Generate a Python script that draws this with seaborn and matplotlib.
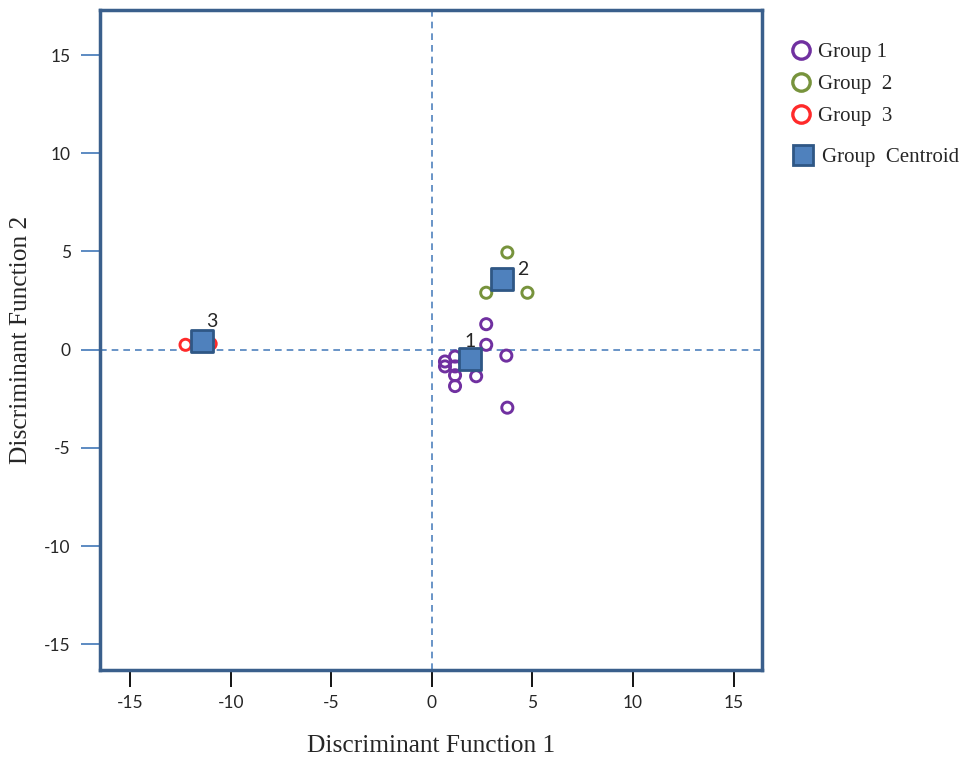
import matplotlib
matplotlib.use("Agg")
import matplotlib.pyplot as plt
from matplotlib.lines import Line2D
import seaborn as sns
import pandas as pd

# discriminant scores
g1_x = [2.7, 2.7, 3.7, 3.75, 2.2, 1.15, 1.15, 1.15, 1.15, 0.65, 0.65]
g1_y = [1.3, 0.25, -0.3, -2.95, -1.35, -1.85, -1.3, -0.85, -0.35, -0.6, -0.85]
g2_x = [3.75, 2.7, 4.75]
g2_y = [4.95, 2.9, 2.9]
g3_x = [-12.25, -11.2, -11.0]
g3_y = [0.25, 0.5, 0.3]
cent_x = [1.9, 3.5, -11.45]
cent_y = [-0.45, 3.6, 0.45]
cent_lab = ["1", "2", "3"]

groups = ["Group 1", "Group  2", "Group  3"]
colors = ["#7030A0", "#77933C", "#FF2A2A"]

df = pd.concat([
    pd.DataFrame({"x": g1_x, "y": g1_y, "group": groups[0]}),
    pd.DataFrame({"x": g2_x, "y": g2_y, "group": groups[1]}),
    pd.DataFrame({"x": g3_x, "y": g3_y, "group": groups[2]}),
])
cent = pd.DataFrame({"x": cent_x, "y": cent_y, "label": cent_lab})

sns.set_style("white")
plt.rcParams["axes.unicode_minus"] = False
spine_col = "#3A5F8C"
line_col = "#4F81BD"
cent_fill = "#4F81BD"
cent_edge = "#2F5785"

fig = plt.figure(figsize=(9.76, 7.57), dpi=100)
ax = fig.add_axes([0.1025, 0.115, 0.678, 0.872])

ax.axhline(0, color=line_col, ls=(0, (4, 3)), lw=1.2, zorder=1)
ax.axvline(0, color=line_col, ls=(0, (4, 3)), lw=1.2, zorder=1)

for g, c in zip(groups, colors):
    sub = df[df["group"] == g]
    sns.scatterplot(data=sub, x="x", y="y", ax=ax, color=c, facecolor="none",
                    edgecolor=c, linewidth=2.1, s=64, legend=False, zorder=3)

sns.scatterplot(data=cent, x="x", y="y", ax=ax, marker="s", s=230,
                color=cent_fill, edgecolor=cent_edge, linewidth=2,
                legend=False, zorder=4)
# label offsets (points) for centroid numbers
offsets = [(-4, 8), (11, 3), (3.5, 10)]
for (_, r), off in zip(cent.iterrows(), offsets):
    ax.annotate(r["label"], (r["x"], r["y"]), xytext=off, textcoords="offset points",
                fontsize=14, family="Lato", zorder=5)

ax.set_xlim(-16.5, 16.4)
ax.set_ylim(-16.3, 17.3)
ax.set_xticks([-15, -10, -5, 0, 5, 10, 15])
ax.set_yticks([-15, -10, -5, 0, 5, 10, 15])

for s in ax.spines.values():
    s.set_color(spine_col)
    s.set_linewidth(2.5)

ax.tick_params(axis="x", direction="out", length=12, width=1.3, color="black",
               labelsize=12.5, pad=6, bottom=True)
ax.tick_params(axis="y", direction="out", length=14, width=1.3, color=line_col,
               labelsize=12.5, pad=7, left=True)
for t in ax.get_xticklabels() + ax.get_yticklabels():
    t.set_family("Lato")

ax.set_xlabel("Discriminant Function 1", family="Liberation Serif", fontsize=18.3, labelpad=17)
ax.set_ylabel("Discriminant Function 2", family="Liberation Serif", fontsize=18.3, labelpad=9)

# legend: hollow circles for groups, a separate block for the centroid
grp_handles = [Line2D([], [], marker="o", ls="none", mfc="none", mec=c, mew=2.4, ms=12.5)
               for c in colors]
leg1 = fig.legend(grp_handles, groups, loc="upper left", bbox_to_anchor=(0.803, 0.944),
                  frameon=False, prop={"family": "Liberation Serif", "size": 15},
                  handletextpad=0.0, labelspacing=0.6, borderpad=0, borderaxespad=0,
                  handlelength=1.63)
cen_handle = [Line2D([], [], marker="s", ls="none", mfc=cent_fill, mec=cent_edge, mew=2, ms=14.5)]
leg2 = fig.legend(cen_handle, ["Group  Centroid"], loc="upper left",
                  bbox_to_anchor=(0.803, 0.805), frameon=False,
                  prop={"family": "Liberation Serif", "size": 15},
                  handletextpad=0.0, borderpad=0, borderaxespad=0, handlelength=1.83)

fig.savefig("out.png", dpi=100)
